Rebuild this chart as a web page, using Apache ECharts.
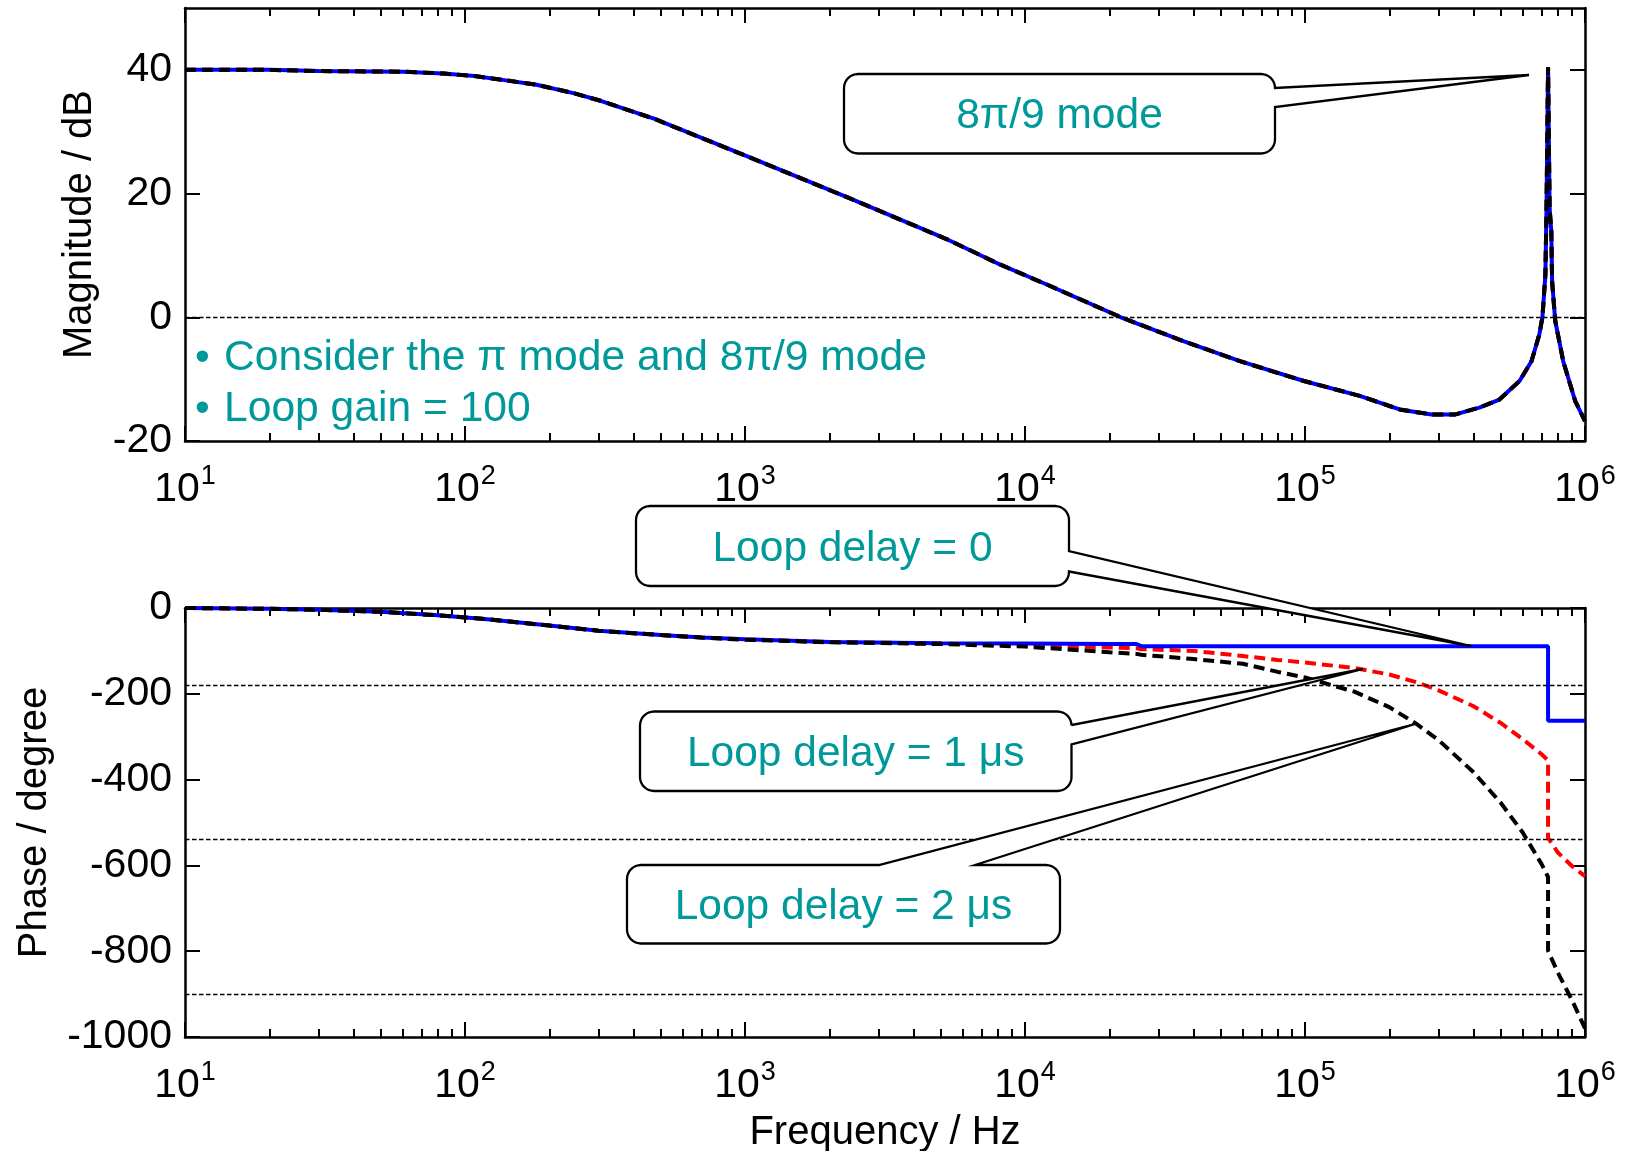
<!DOCTYPE html>
<html>
<head>
<meta charset="utf-8">
<script src="https://cdn.jsdelivr.net/npm/echarts@6/dist/echarts.min.js"></script>
<style>
html,body{margin:0;padding:0;background:#fff;}
#chart{width:1626px;height:1151px;}
</style>
</head>
<body>
<div id="chart"></div>
<script>
// ---------- data ----------
const magFreq = [10, 20, 30, 60, 84, 108, 140, 180, 246, 305, 473, 1020, 2290, 5330, 8170, 11960, 22000, 37000, 58600, 99100, 156800, 217600, 283000, 344600, 419600, 494700, 583600, 644000, 686700, 704500, 714000, 722000, 728700, 738000, 747600, 758000, 763000, 783000, 836000, 922000, 1000000];
const magDb = [40.0, 40.0, 39.8, 39.7, 39.4, 39.0, 38.3, 37.6, 36.2, 35.0, 32.1, 26.0, 19.5, 12.5, 8.5, 5.3, 0.0, -3.9, -7.1, -10.3, -12.7, -14.9, -15.7, -15.7, -14.6, -13.3, -10.3, -7.1, -2.8, 0.0, 3.7, 6.9, 17.6, 40.4, 17.6, 13.9, 5.8, -0.6, -7.1, -13.5, -16.8];

const phaseFreq = [10, 20, 30, 50, 80, 120, 200, 300, 500, 700, 1000, 2000, 5000, 10000, 20000, 25000, 26000, 40000, 60000, 80000, 100000, 150000, 200000, 250000, 300000, 400000, 500000, 600000, 700000, 738000, 738000, 800000, 900000, 1000000];
const phaseDelay0 = [0, -2, -4, -9, -17, -26, -41, -53, -63, -69, -73, -79, -82, -83, -84, -84, -89, -89, -89, -89, -89, -89, -89, -89, -89, -89, -89, -89, -89, -89, -263, -263, -263, -263];
const phaseDelay1 = [0, -2, -4, -9, -17, -26, -41, -53, -63, -69, -73, -79, -83, -87, -92, -94, -96, -100, -112, -121, -127, -140, -155, -173, -192, -229, -268, -306, -341, -355, -536, -570, -602, -625];
const phaseDelay2 = [0, -2, -4, -9, -17, -26, -41, -53, -63, -69, -74, -80, -84, -90, -103, -107, -109, -119, -130, -149, -162, -195, -231, -270, -308, -383, -454, -524, -597, -627, -799, -850, -915, -980];

const magRefLines = [0];
const phaseRefLines = [-180, -540, -900];
const magTicks = [-20, 0, 20, 40];
const phaseTicks = [0, -200, -400, -600, -800, -1000];
const decadeExponents = [1, 2, 3, 4, 5, 6];
const minorMultipliers = [2, 3, 4, 5, 6, 7, 8, 9];

const magTitle = 'Magnitude / dB';
const phaseTitle = 'Phase / degree';
const freqTitle = 'Frequency / Hz';
const noteLines = ['Consider the π mode and 8π/9 mode', 'Loop gain = 100'];
const bulletChar = '•';
const calloutTexts = ['8π/9 mode', 'Loop delay = 0', 'Loop delay = 1 μs', 'Loop delay = 2 μs'];

// ---------- styling / layout ----------
const FONT = "'Liberation Sans', Arial, Helvetica, sans-serif";
const TEAL = '#00999A';
const G0 = {left: 185, right: 41, top: 8, height: 433};
const G1 = {left: 185, right: 41, top: 608, height: 429};

// minor tick positions in log10 space (for overlay value axes from 1 to 6)
const minorLogs = [];
decadeExponents.slice(0, -1).forEach(e => minorMultipliers.forEach(k => minorLogs.push(e + Math.log10(k))));

const pairs = (xs, ys) => xs.map((x, i) => [x, ys[i]]);

function xMajor(gridIndex, position, showLabel, margin) {
  return {
    type: 'log', logBase: 10, gridIndex, position, min: 10, max: 1e6,
    axisLine: {show: true, onZero: false, lineStyle: {color: '#000', width: 2.5}},
    axisTick: {show: true, inside: true, length: 15, lineStyle: {color: '#000', width: 2}},
    minorTick: {show: false}, splitLine: {show: false}, minorSplitLine: {show: false},
    axisLabel: {
      show: showLabel, margin: margin || 22, color: '#000',
      formatter: v => '{b|10}{s|' + Math.round(Math.log10(v)) + '}',
      rich: {
        b: {fontSize: 41, fontFamily: FONT, color: '#000', lineHeight: 54},
        s: {fontSize: 27, fontFamily: FONT, color: '#000', lineHeight: 27, verticalAlign: 'top', padding: [0, 0, 0, 1]}
      }
    }
  };
}
function xMinor(gridIndex, position) {
  return {
    type: 'value', gridIndex, position, min: 1, max: 6,
    axisLine: {show: false, onZero: false},
    axisTick: {show: true, inside: true, length: 8, customValues: minorLogs, lineStyle: {color: '#000', width: 2}},
    axisLabel: {show: false}, splitLine: {show: false}
  };
}
function yMain(gridIndex, min, max, ticks, name, nameGap) {
  return {
    type: 'value', gridIndex, position: 'left', min, max,
    axisLine: {show: true, onZero: false, lineStyle: {color: '#000', width: 2.5}},
    axisTick: {show: true, inside: true, length: 15, customValues: ticks, lineStyle: {color: '#000', width: 2}},
    axisLabel: {show: true, customValues: ticks, margin: 13, color: '#000', fontSize: 41, fontFamily: FONT,
                formatter: v => String(v)},
    splitLine: {show: false},
    name, nameLocation: 'middle', nameGap,
    nameTextStyle: {fontSize: 40, fontFamily: FONT, color: '#000'}
  };
}
function yRight(gridIndex, min, max, ticks) {
  return {
    type: 'value', gridIndex, position: 'right', min, max,
    axisLine: {show: true, onZero: false, lineStyle: {color: '#000', width: 2.5}},
    axisTick: {show: true, inside: true, length: 15, customValues: ticks, lineStyle: {color: '#000', width: 2}},
    axisLabel: {show: false}, splitLine: {show: false}
  };
}

const refLine = vals => ({
  silent: true, symbol: ['none', 'none'], label: {show: false},
  lineStyle: {color: '#000', width: 1.3, type: [4.5, 2.5]},
  data: vals.map(v => ({yAxis: v}))
});

function lineSeries(name, xi, yi, data, color, dashed, extra) {
  return Object.assign({
    name, type: 'line', xAxisIndex: xi, yAxisIndex: yi, data,
    showSymbol: false, symbol: 'none', animation: false, silent: true,
    lineStyle: {color, width: 4, type: dashed ? [11, 6] : 'solid', join: 'bevel'}
  }, extra || {});
}

// ---------- callout boxes (annotation graphics) ----------
function calloutPoints(b, r, w) {
  const pts = [];
  const arc = (cx, cy, a0, a1) => {
    const n = 8;
    for (let i = 0; i <= n; i++) {
      const a = (a0 + (a1 - a0) * i / n) * Math.PI / 180;
      pts.push([cx + r * Math.cos(a), cy + r * Math.sin(a)]);
    }
  };
  arc(b.x0 + r, b.y0 + r, 180, 270);
  if (w.side === 'top') { pts.push([w.a, b.y0], [w.tx, w.ty], [w.b, b.y0]); }
  arc(b.x1 - r, b.y0 + r, 270, 360);
  if (w.side === 'right') { pts.push([b.x1, w.a], [w.tx, w.ty], [b.x1, w.b]); }
  arc(b.x1 - r, b.y1 - r, 0, 90);
  arc(b.x0 + r, b.y1 - r, 90, 180);
  return pts;
}
const callouts = [
  {box: {x0: 844, y0: 74, x1: 1275, y1: 153.5}, w: {side: 'right', a: 88, b: 107, tx: 1529, ty: 75}},
  {box: {x0: 636, y0: 506, x1: 1069, y1: 586}, w: {side: 'right', a: 551, b: 571.5, tx: 1471, ty: 646}},
  {box: {x0: 640, y0: 711.5, x1: 1071.5, y1: 791}, w: {side: 'right', a: 725, b: 744.5, tx: 1363, ty: 669}},
  {box: {x0: 627, y0: 865, x1: 1060, y1: 943.5}, w: {side: 'top', a: 879, b: 975, tx: 1415, ty: 724}}
];
const graphics = [];
callouts.forEach((c, i) => {
  graphics.push({
    type: 'polygon', z: 100, silent: true,
    shape: {points: calloutPoints(c.box, 14, c.w)},
    style: {fill: '#fff', stroke: '#000', lineWidth: 2.3, lineJoin: 'miter'}
  });
  graphics.push({
    type: 'text', z: 101, silent: true,
    x: (c.box.x0 + c.box.x1) / 2, y: (c.box.y0 + c.box.y1) / 2 + 3,
    style: {text: calloutTexts[i], fill: TEAL, fontSize: 42.5, fontFamily: FONT,
            align: 'center', verticalAlign: 'middle', textAlign: 'center', textVerticalAlign: 'middle'}
  });
});
noteLines.forEach((t, i) => {
  const y = 358.5 + i * 50.5;
  graphics.push({
    type: 'text', z: 101, silent: true, x: 195, y,
    style: {text: bulletChar, fill: TEAL, fontSize: 42, fontFamily: FONT,
            align: 'left', verticalAlign: 'middle', textAlign: 'left', textVerticalAlign: 'middle'}
  });
  graphics.push({
    type: 'text', z: 101, silent: true, x: 224, y,
    style: {text: t, fill: TEAL, fontSize: 42.6, fontFamily: FONT,
            align: 'left', verticalAlign: 'middle', textAlign: 'left', textVerticalAlign: 'middle'}
  });
});

const magData = pairs(magFreq, magDb);
const option = {
  backgroundColor: '#fff',
  animation: false,
  textStyle: {fontFamily: FONT},
  grid: [
    Object.assign({containLabel: false, outerBoundsMode: 'none'}, G0),
    Object.assign({containLabel: false, outerBoundsMode: 'none'}, G1)
  ],
  xAxis: [
    xMajor(0, 'bottom', true, 22), xMinor(0, 'bottom'), xMajor(0, 'top', false), xMinor(0, 'top'),
    Object.assign(xMajor(1, 'bottom', true, 22), {name: freqTitle, nameLocation: 'middle', nameGap: 76,
      nameTextStyle: {fontSize: 40, fontFamily: FONT, color: '#000'}}),
    xMinor(1, 'bottom'), xMajor(1, 'top', false), xMinor(1, 'top')
  ],
  yAxis: [
    yMain(0, -20, 50, magTicks, magTitle, 85), yRight(0, -20, 50, magTicks),
    yMain(1, -1000, 0, phaseTicks, phaseTitle, 130), yRight(1, -1000, 0, phaseTicks)
  ],
  series: [
    lineSeries('mag delay 1us', 0, 0, magData, '#FF0000', true),
    lineSeries('mag delay 0', 0, 0, magData, '#0000FF', false, {markLine: refLine(magRefLines)}),
    lineSeries('mag delay 2us', 0, 0, magData, '#000000', true),
    lineSeries('phase delay 1us', 4, 2, pairs(phaseFreq, phaseDelay1), '#FF0000', true),
    lineSeries('phase delay 0', 4, 2, pairs(phaseFreq, phaseDelay0), '#0000FF', false, {markLine: refLine(phaseRefLines)}),
    lineSeries('phase delay 2us', 4, 2, pairs(phaseFreq, phaseDelay2), '#000000', true)
  ],
  graphic: {elements: graphics}
};

const chart = echarts.init(document.getElementById('chart'), null, {renderer: 'canvas', width: 1626, height: 1151});
chart.setOption(option);
</script>
</body>
</html>
